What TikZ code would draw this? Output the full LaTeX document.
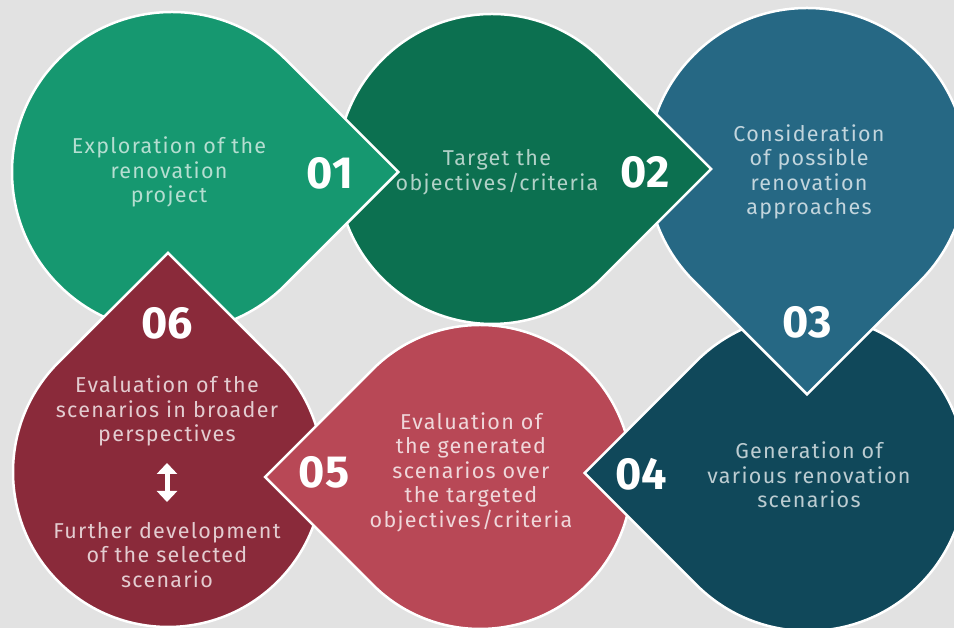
\documentclass[tikz,border=0pt]{standalone}
\usepackage{fontspec}
\setmainfont[LetterSpace=6]{Fira Sans}
\newfontfamily\numfont{Fira Sans}
\usetikzlibrary{arrows.meta}
\definecolor{bg_grey}{RGB}{226, 226, 226}
\definecolor{step_a}{RGB}{22, 152, 112}
\definecolor{step_b}{RGB}{12, 112, 80}
\definecolor{step_c}{RGB}{38, 104, 132}
\definecolor{step_d}{RGB}{16, 72, 90}
\definecolor{step_e}{RGB}{184, 72, 86}
\definecolor{step_f}{RGB}{138, 42, 58}
\tikzstyle{drop}=[draw=white,line width=2.5pt,line join=miter]
\tikzstyle{txt}=[align=center,inner sep=0pt,
  font=\fontsize{21.5}{24.5}\selectfont]
\tikzstyle{num}=[inner sep=0pt,text=white,
  font=\numfont\bfseries\fontsize{45}{45}\selectfont]
\tikzstyle{updown}=[white,line width=5pt,
  {Triangle[width=20pt,length=11pt]}-{Triangle[width=20pt,length=11pt]}]

\begin{document}
\begin{tikzpicture}[x=1pt,y=1pt]
    \useasboundingbox (0,0) rectangle (954,628);
    \clip (0,0) rectangle (954,628);
    \fill[bg_grey] (0,0) rectangle (954,628);
    % centres of the six drops
    \coordinate (1c) at (172,456);
    \coordinate (2c) at (492,459);
    \coordinate (3c) at (807,460);
    \coordinate (4c) at (808,155);
    \coordinate (5c) at (480,151);
    \coordinate (6c) at (168,156);
    % drops, last one on top
    \filldraw[style=drop,fill=step_f] (6c) ++(135:155) arc[start angle=135,end angle=405,radius=155] -- ++(135:155) -- cycle;
    \filldraw[style=drop,fill=step_e] (5c) ++(225:152) arc[start angle=225,end angle=495,radius=152] -- ++(225:152) -- cycle;
    \filldraw[style=drop,fill=step_d] (4c) ++(225:158) arc[start angle=225,end angle=495,radius=158] -- ++(225:158) -- cycle;
    \filldraw[style=drop,fill=step_c] (3c) ++(315:160) arc[start angle=315,end angle=585,radius=160] -- ++(315:160) -- cycle;
    \filldraw[style=drop,fill=step_b] (2c) ++(45:155) arc[start angle=45,end angle=315,radius=155] -- ++(45:155) -- cycle;
    \filldraw[style=drop,fill=step_a] (1c) ++(45:160) arc[start angle=45,end angle=315,radius=160] -- ++(45:160) -- cycle;
    % tip of 06 goes over 01
    \begin{scope}
      \clip (0,290) rectangle (340,628);
      \filldraw[style=drop,fill=step_f] (6c) ++(135:155) arc[start angle=135,end angle=405,radius=155] -- ++(135:155) -- cycle;
    \end{scope}
    % texts
    \node [style=txt,text=white!68!step_a] (1t) at (169,456) {Exploration of the\\renovation\\project};
    \node [style=num] (1n) at (330,455) {01};
    \node [style=txt,text=white!68!step_b] (2t) at (497,456) {Target the\\objectives/criteria};
    \node [style=num] (2n) at (645,456) {02};
    \node [style=txt,text=white!72!step_c] (3t) at (809,456) {Consideration\\of possible\\renovation\\approaches};
    \node [style=num] (3n) at (807,306) {03};
    \node [style=txt,text=white!72!step_d] (4t) at (809,153) {Generation of\\various renovation\\scenarios};
    \node [style=num] (4n) at (641,154) {04};
    \node [style=txt,text=white!78!step_e] (5t) at (471,156) {Evaluation of\\the generated\\scenarios over\\the targeted\\objectives/criteria};
    \node [style=num] (5n) at (324,156) {05};
    \node [style=txt,text=white!76!step_f] (6t) at (167,217) {Evaluation of the\\scenarios in broader\\perspectives};
    \node [style=txt,text=white!76!step_f] (6b) at (167,73) {Further development\\of the selected\\scenario};
    \node [style=num] (6n) at (167,305) {06};
    \coordinate (6up) at (167,165);
    \coordinate (6dn) at (167,126);
    \draw [style=updown] (6up) -- (6dn);
  \end{tikzpicture}
\end{document}
